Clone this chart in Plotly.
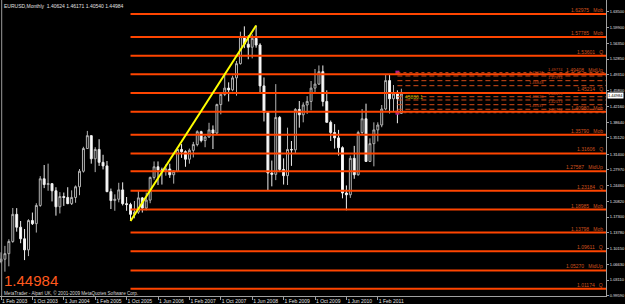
import plotly.graph_objects as go

# ---------------- data ----------------
months = ["2003-02","2003-03","2003-04","2003-05","2003-06","2003-07","2003-08","2003-09","2003-10","2003-11","2003-12",
          "2004-01","2004-02","2004-03","2004-04","2004-05","2004-06","2004-07","2004-08","2004-09","2004-10","2004-11","2004-12",
          "2005-01","2005-02","2005-03","2005-04","2005-05","2005-06","2005-07","2005-08","2005-09","2005-10","2005-11","2005-12",
          "2006-01","2006-02","2006-03","2006-04","2006-05","2006-06","2006-07","2006-08","2006-09","2006-10","2006-11","2006-12",
          "2007-01","2007-02","2007-03","2007-04","2007-05","2007-06","2007-07","2007-08","2007-09","2007-10","2007-11","2007-12",
          "2008-01","2008-02","2008-03","2008-04","2008-05","2008-06","2008-07","2008-08","2008-09","2008-10","2008-11","2008-12",
          "2009-01","2009-02","2009-03","2009-04","2009-05","2009-06","2009-07","2009-08","2009-09","2009-10","2009-11","2009-12",
          "2010-01","2010-02","2010-03","2010-04","2010-05","2010-06","2010-07","2010-08","2010-09","2010-10","2010-11","2010-12",
          "2011-01","2011-02","2011-03","2011-04","2011-05","2011-06","2011-07","2011-08"]

opens = [1.0730,1.0780,1.0905,1.1180,1.1790,1.1500,1.1240,1.0990,1.1650,1.1580,1.1990,
         1.2590,1.2460,1.2480,1.2320,1.1960,1.2190,1.2170,1.2030,1.2170,1.2410,1.2760,1.3270,
         1.3560,1.3040,1.3250,1.2960,1.2880,1.2300,1.2100,1.2130,1.2340,1.2030,1.2010,1.1790,
         1.1840,1.2160,1.1930,1.2110,1.2620,1.2860,1.2790,1.2760,1.2810,1.2680,1.2760,1.3250,
         1.3200,1.3030,1.3230,1.3360,1.3650,1.3450,1.3530,1.3690,1.3620,1.4260,1.4490,1.4630,
         1.4590,1.4860,1.5180,1.5790,1.5620,1.5550,1.5750,1.5600,1.4680,1.4080,1.2720,1.2690,
         1.3970,1.2800,1.2660,1.3250,1.3240,1.4150,1.4030,1.4250,1.4330,1.4630,1.4720,1.5000,
         1.4330,1.3860,1.3630,1.3510,1.3290,1.2270,1.2230,1.3050,1.2680,1.3630,1.3940,1.2980,
         1.3380,1.3690,1.3800,1.4160,1.4800,1.4390,1.4500,1.40624]
highs = [1.0935,1.1080,1.1230,1.1933,1.1930,1.1640,1.1460,1.1680,1.1830,1.2040,1.2650,
         1.2900,1.2930,1.2490,1.2400,1.2290,1.2280,1.2400,1.2330,1.2440,1.2810,1.3310,1.3667,
         1.3570,1.3300,1.3480,1.3130,1.2990,1.2370,1.2240,1.2500,1.2510,1.2180,1.2050,1.2090,
         1.2330,1.2180,1.2280,1.2640,1.2980,1.2980,1.2840,1.2910,1.2930,1.2780,1.3270,1.3370,
         1.3230,1.3270,1.3420,1.3680,1.3670,1.3550,1.3850,1.3790,1.4280,1.4530,1.4970,1.4760,
         1.4910,1.5240,1.5900,1.6020,1.5820,1.5840,1.6040,1.5640,1.4870,1.4100,1.3000,1.4720,
         1.4000,1.3050,1.3740,1.3440,1.4180,1.4340,1.4310,1.4450,1.4790,1.5060,1.5140,1.5140,
         1.4580,1.3900,1.3820,1.3690,1.3320,1.2440,1.3110,1.3330,1.3670,1.4160,1.4280,1.3500,
         1.3860,1.3860,1.4250,1.4940,1.4940,1.4700,1.4580,1.46171]
lows = [1.0690,1.0500,1.0620,1.1150,1.1400,1.1140,1.0760,1.0850,1.1550,1.1380,1.1960,
        1.2380,1.2320,1.2080,1.1760,1.1810,1.1980,1.2020,1.2000,1.2050,1.2220,1.2730,1.3260,
        1.2930,1.2740,1.2880,1.2800,1.2290,1.1910,1.1870,1.2060,1.1990,1.1870,1.1640,1.1700,
        1.1800,1.1830,1.1880,1.2040,1.2570,1.2450,1.2460,1.2660,1.2610,1.2480,1.2740,1.3060,
        1.2860,1.2930,1.3070,1.3320,1.3410,1.3300,1.3510,1.3260,1.3580,1.4040,1.4450,1.4330,
        1.4560,1.4460,1.5160,1.5530,1.5280,1.5300,1.5540,1.4530,1.3880,1.2330,1.2420,1.2560,
        1.2740,1.2460,1.2450,1.2880,1.3160,1.3740,1.3860,1.4050,1.4130,1.4530,1.4700,1.4220,
        1.3860,1.3440,1.3270,1.3110,1.2150,1.1880,1.2160,1.2590,1.2660,1.3600,1.2970,1.2970,
        1.2870,1.3430,1.3750,1.4130,1.4060,1.4100,1.3840,1.40540]
closes = [1.0780,1.0905,1.1180,1.1790,1.1500,1.1240,1.0990,1.1650,1.1580,1.1990,1.2590,
          1.2460,1.2480,1.2320,1.1960,1.2190,1.2170,1.2030,1.2170,1.2410,1.2760,1.3270,1.3560,
          1.3040,1.3250,1.2960,1.2880,1.2300,1.2100,1.2130,1.2340,1.2030,1.2010,1.1790,1.1840,
          1.2160,1.1930,1.2110,1.2620,1.2860,1.2790,1.2760,1.2810,1.2680,1.2760,1.3250,1.3200,
          1.3030,1.3230,1.3360,1.3650,1.3450,1.3530,1.3690,1.3620,1.4260,1.4490,1.4630,1.4590,
          1.4860,1.5180,1.5790,1.5620,1.5550,1.5750,1.5600,1.4680,1.4080,1.2720,1.2690,1.3970,
          1.2800,1.2660,1.3250,1.3240,1.4150,1.4030,1.4250,1.4330,1.4630,1.4720,1.5000,1.4330,
          1.3860,1.3630,1.3510,1.3290,1.2270,1.2230,1.3050,1.2680,1.3630,1.3940,1.2980,1.3380,
          1.3690,1.3800,1.4160,1.4800,1.4390,1.4500,1.4390,1.44984]

x_tick_months = ["2003-02","2003-10","2004-06","2005-02","2005-10","2006-06","2007-02",
                 "2007-10","2008-06","2009-02","2009-10","2010-06","2011-02"]
x_tick_labels = ["1 Feb 2003","1 Oct 2003","1 Jun 2004","1 Feb 2005","1 Oct 2005","1 Jun 2006","1 Feb 2007",
                 "1 Oct 2007","1 Jun 2008","1 Feb 2009","1 Oct 2009","1 Jun 2010","1 Feb 2011"]

y_ticks = [0.99590,1.03110,1.06630,1.10150,1.13780,1.17300,1.20820,1.24460,1.27970,1.31400,
           1.35120,1.38640,1.42160,1.45800,1.49310,1.52850,1.56350,1.59900,1.63500]

levels = [1.62975,1.57785,1.53601,1.49408,1.45214,1.40980,1.35790,1.31606,1.27587,1.23184,
          1.18985,1.13798,1.09611,1.05270,1.01174]
level_tags = ["Mob","Mob","Q","MidUp","Q","Mob","Mob","Q","MidUp","Q","Mob","Mob","Q","MidUp","Q"]
levels_start = "2005-11"

dash_levels = [1.49774,1.49031,1.47974,1.46848,1.44373,1.43630,1.42573,1.41537,1.40772]
dash_start = "2011-07"

trend_from = "2005-11"
trend_to = "2008-07"

symbol = "EURUSD,Monthly"
copyright_text = "MetaTrader - Alpari UK, \u00a9 2001-2009 MetaQuotes Software Corp."
indicator_text = "45830.1"

# ---------------- figure ----------------
xs = list(range(len(months)))
idx = {m: i for i, m in enumerate(months)}

W, H = 625, 304
ML, MR, MT, MB = 0, 19, 0, 8
plot_w = W - ML - MR
plot_h = H - MT - MB
px_per_bar = 3.925
x_lo = -1.0 / px_per_bar
x_hi = x_lo + plot_w / px_per_bar
y_lo, y_hi = 0.99522, 1.66130

FONT = "Liberation Sans"
fig = go.Figure()

fig.add_trace(go.Candlestick(
    x=xs, open=opens, high=highs, low=lows, close=closes,
    increasing=dict(fillcolor="#000000", line=dict(color="#b4b4b4", width=1)),
    decreasing=dict(fillcolor="#ffffff", line=dict(color="#f0f0f0", width=1)),
    whiskerwidth=0, showlegend=False, hoverinfo="skip",
))

shapes = []
for v in levels:
    shapes.append(dict(type="line", xref="x", yref="y", x0=idx[levels_start], x1=x_hi,
                       y0=v, y1=v, line=dict(color="#ff4500", width=2)))
for i, v in enumerate(dash_levels):
    dash = "dot" if i in (0, len(dash_levels) - 1) else "5px,3px"
    shapes.append(dict(type="line", xref="x", yref="y", x0=idx[dash_start], x1=x_hi,
                       y0=v, y1=v, line=dict(color="#d44a18", width=1, dash=dash)))
shapes.append(dict(type="line", xref="x", yref="y",
                   x0=idx[trend_from], y0=lows[idx[trend_from]],
                   x1=idx[trend_to], y1=highs[idx[trend_to]],
                   line=dict(color="#ffff00", width=2)))
shapes.append(dict(type="line", xref="paper", yref="paper", x0=0.0028, x1=0.0028, y0=0, y1=1,
                   line=dict(color="#9a9a9a", width=1)))

fig.add_trace(go.Scatter(x=[idx[dash_start], idx[dash_start]], y=[dash_levels[0], dash_levels[-1]],
                         mode="markers", marker=dict(symbol="square", size=4, color="#b0208a"),
                         showlegend=False, hoverinfo="skip"))

ann = []
for v, tag in zip(levels, level_tags):
    ann.append(dict(xref="paper", yref="y", x=1, y=v, xanchor="right", yanchor="bottom",
                    xshift=-1, yshift=-1, showarrow=False,
                    text=f"{v:.5f}\u00a0\u00a0\u00a0{tag}",
                    font=dict(family=FONT, size=5, color="#d0521e")))
for i, v in enumerate(dash_levels):
    ann.append(dict(xref="paper", yref="y", x=1, y=v, xanchor="right", yanchor="bottom",
                    xshift=-41 if i % 2 == 0 else -60, yshift=-1, showarrow=False, text=f"{v:.5f}",
                    font=dict(family=FONT, size=4, color="#c84818")))
ann.append(dict(xref="paper", yref="paper", x=0.004, y=1 - 6 / plot_h,
                xanchor="left", yanchor="middle", showarrow=False,
                text=f"{symbol}  {opens[-1]:.5f} {highs[-1]:.5f} {lows[-1]:.5f} {closes[-1]:.5f}",
                font=dict(family=FONT, size=5, color="#e0e0e0")))
ann.append(dict(xref="paper", yref="paper", x=0.004, y=(plot_h - 280) / plot_h,
                xanchor="left", yanchor="middle", showarrow=False,
                text=f"{closes[-1]:.5f}", font=dict(family=FONT, size=15, color="#ff5a1e")))
ann.append(dict(xref="paper", yref="paper", x=0.004, y=(plot_h - 292.8) / plot_h,
                xanchor="left", yanchor="middle", showarrow=False,
                text=copyright_text, font=dict(family=FONT, size=4.6, color="#d8d8d8")))
ann.append(dict(xref="paper", yref="y", x=1, y=closes[-1], xanchor="left", yanchor="middle",
                xshift=1, yshift=-1.2, showarrow=False, text=f"{closes[-1]:.5f}", bgcolor="#ffffff",
                borderpad=0, font=dict(family=FONT, size=4, color="#000000")))
ann.append(dict(xref="x", yref="y", x=xs[-1], y=closes[-1], xanchor="left", yanchor="middle",
                xshift=2, yshift=-3, showarrow=False, text=indicator_text,
                font=dict(family=FONT, size=5, color="#b8b800")))

fig.update_layout(
    width=W, height=H, margin=dict(l=ML, r=MR, t=MT, b=MB, autoexpand=False),
    paper_bgcolor="#000000", plot_bgcolor="#000000",
    shapes=shapes, annotations=ann, showlegend=False,
    font=dict(family=FONT, size=5, color="#d8d8d8"),
    xaxis=dict(range=[x_lo, x_hi], rangeslider=dict(visible=False), showgrid=False, zeroline=False,
               tickvals=[idx[m] for m in x_tick_months], ticktext=x_tick_labels, tickangle=0,
               ticks="outside", ticklen=3, tickcolor="#a0a0a0", ticklabelposition="outside right",
               showline=True, linecolor="#a0a0a0", linewidth=1, automargin=False,
               tickfont=dict(family=FONT, size=5, color="#e0e0e0")),
    yaxis=dict(range=[y_lo, y_hi], side="right", showgrid=False, zeroline=False,
               tickvals=y_ticks, tickformat=".5f", ticks="outside", ticklen=2, tickcolor="#a0a0a0",
               showline=True, linecolor="#a0a0a0", linewidth=1, automargin=False,
               tickfont=dict(family=FONT, size=4, color="#e0e0e0")),
)

fig.write_html("out.html")
